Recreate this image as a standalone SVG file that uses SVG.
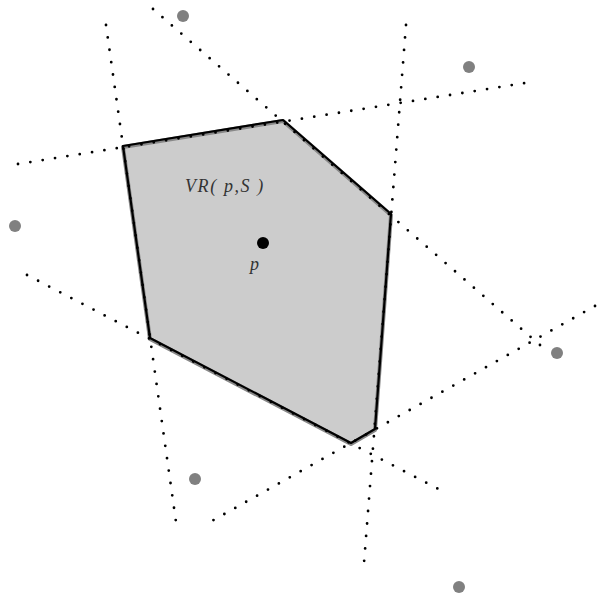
<svg xmlns="http://www.w3.org/2000/svg" width="600" height="596" viewBox="0 0 600 596">
<style>
.bis{stroke:#000;stroke-width:2.8;stroke-linecap:round;stroke-dasharray:0 12.5;fill:none}
.site{fill:#808080}
.lbl{font-family:"Liberation Serif","DejaVu Serif",serif;font-style:italic;font-size:18px;fill:#333}
</style>
<rect width="600" height="596" fill="#fff"/>
<g id="cell">
<polygon points="123,147 283,121 391,215 375,430 351,444 150,339" fill="#cccccc" stroke="#888" stroke-width="4" stroke-linejoin="round"/>
<polygon points="123,147 283,121 391,215 375,430 351,444 150,339" fill="none" stroke="#000" stroke-width="2.2" stroke-linejoin="round" transform="translate(0,-1)"/>
</g>
<g id="connectors">
<line class="bis" x1="106" y1="25" x2="176" y2="522"/>
<line class="bis" x1="18" y1="164" x2="525" y2="83"/>
<line class="bis" x1="153" y1="9" x2="548" y2="352"/>
<line class="bis" x1="406" y1="25" x2="364" y2="563"/>
<line class="bis" x1="595" y1="306" x2="203" y2="526"/>
<line class="bis" x1="27" y1="275" x2="448" y2="494"/>
</g>
<g id="sites">
<circle class="site" cx="183" cy="16" r="6"/>
<circle class="site" cx="469" cy="67" r="6"/>
<circle class="site" cx="15" cy="226" r="6"/>
<circle class="site" cx="557" cy="353" r="6"/>
<circle class="site" cx="195" cy="479" r="6"/>
<circle class="site" cx="459" cy="587" r="6"/>
</g>
<g id="p">
<circle cx="263" cy="243" r="6" fill="#000"/>
<text class="lbl" x="250" y="270">p</text>
</g>
<g id="label">
<text class="lbl" x="185" y="192" letter-spacing="1.6">VR( p,S )</text>
</g>
</svg>
